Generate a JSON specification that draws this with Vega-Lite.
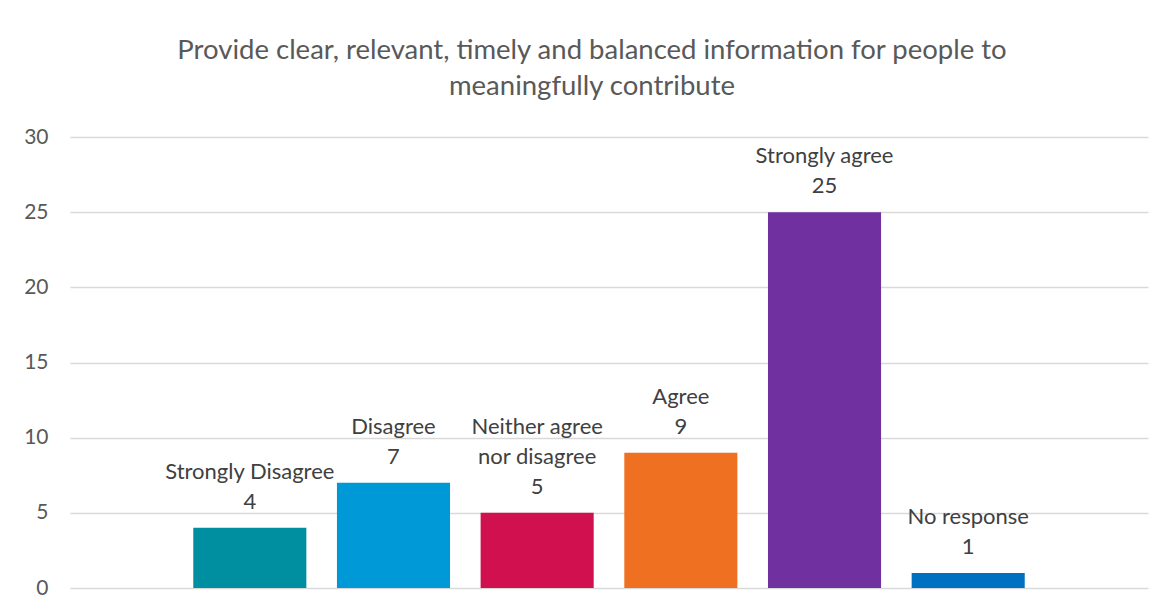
{
  "$schema": "https://vega.github.io/schema/vega-lite/v6.json",
  "autosize": {"type": "none"},
  "padding": {"left": 70, "top": 137, "right": 25, "bottom": 23},
  "width": 1078,
  "height": 451,
  "background": "white",
  "title": {
    "text": ["Provide clear, relevant, timely and balanced information for people to", "meaningfully contribute"],
    "font": "Lato",
    "fontSize": 27.5,
    "fontWeight": "normal",
    "color": "#595959",
    "lineHeight": 36,
    "anchor": "middle",
    "dx": -17,
    "offset": 15
  },
  "data": {
    "values": [
      {"category": "Strongly Disagree", "count": 4, "upper": "", "lower": "Strongly Disagree"},
      {"category": "Disagree", "count": 7, "upper": "", "lower": "Disagree"},
      {"category": "Neither agree nor disagree", "count": 5, "upper": "Neither agree", "lower": "nor disagree"},
      {"category": "Agree", "count": 9, "upper": "", "lower": "Agree"},
      {"category": "Strongly agree", "count": 25, "upper": "", "lower": "Strongly agree"},
      {"category": "No response", "count": 1, "upper": "", "lower": "No response"}
    ]
  },
  "encoding": {
    "x": {
      "field": "category",
      "type": "nominal",
      "sort": null,
      "axis": null,
      "scale": {"paddingInner": 0.213, "paddingOuter": 0.858}
    },
    "y": {
      "field": "count",
      "type": "quantitative",
      "scale": {"domain": [0, 30], "nice": false},
      "axis": {
        "title": null,
        "values": [0, 5, 10, 15, 20, 25, 30],
        "domain": false,
        "ticks": false,
        "labelFont": "Lato",
        "labelFontSize": 21,
        "labelColor": "#595959",
        "labelPadding": 22,
        "gridColor": "#D9D9D9",
        "gridWidth": 1.5
      }
    }
  },
  "layer": [
    {
      "mark": {"type": "bar"},
      "encoding": {
        "color": {
          "field": "category",
          "type": "nominal",
          "legend": null,
          "scale": {
            "domain": ["Strongly Disagree", "Disagree", "Neither agree nor disagree", "Agree", "Strongly agree", "No response"],
            "range": ["#008FA0", "#0099D8", "#D0104F", "#F07022", "#7030A0", "#0070C0"]
          }
        }
      }
    },
    {
      "mark": {"type": "text", "font": "Lato", "fontSize": 22, "color": "#404040", "baseline": "alphabetic", "dy": -19},
      "encoding": {"text": {"field": "count", "type": "quantitative"}}
    },
    {
      "mark": {"type": "text", "font": "Lato", "fontSize": 22, "color": "#404040", "baseline": "alphabetic", "dy": -49},
      "encoding": {"text": {"field": "lower"}}
    },
    {
      "mark": {"type": "text", "font": "Lato", "fontSize": 22, "color": "#404040", "baseline": "alphabetic", "dy": -79},
      "encoding": {"text": {"field": "upper"}}
    }
  ],
  "config": {"view": {"stroke": null}}
}
